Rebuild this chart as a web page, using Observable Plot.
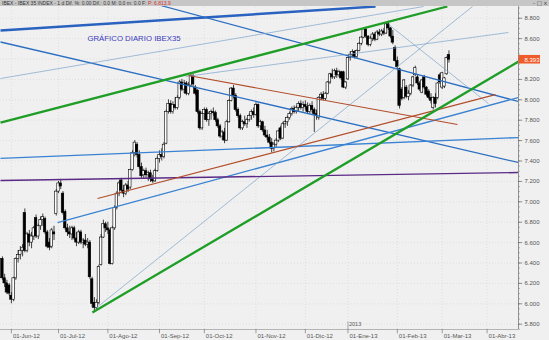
<!DOCTYPE html>
<html><head><meta charset="utf-8">
<script src="https://cdn.jsdelivr.net/npm/d3@7"></script>
<script src="https://cdn.jsdelivr.net/npm/@observablehq/plot@0.6"></script>
<style>
body{margin:0;background:#f0f0f0;}
#chart{position:relative;width:549px;height:340px;overflow:hidden;}
</style>
</head><body><div id="chart"></div>
<script>
// Daily candles, index 0 = 28-May-2012 ... 199 = 06-Mar-2013 (trading days)
const open = [6440,6250,6200,6180,6080,6040,6250,6440,6480,6520,6890,6520,6680,6600,6660,6840,6660,6760,6820,6830,
6700,6600,6560,6700,6880,7100,7180,7080,6900,6740,6700,6680,6740,6640,6600,6700,6600,6620,6580,6600,
6240,6010,5960,6010,6380,6650,6780,6740,6720,6390,6740,6940,7080,7210,7110,7080,7160,7140,7310,7480,
7560,7460,7340,7260,7300,7260,7280,7220,7200,7300,7420,7460,7440,7570,7880,7960,7880,7950,7920,8020,
8170,8100,8160,8060,8140,8230,8120,8090,7880,7720,7860,7900,7800,7860,7880,7870,7800,7740,7640,7680,
7600,7780,7990,8110,8040,7900,7840,7720,7780,7760,7800,7840,7880,7850,7950,7740,7780,7700,7650,7630,
7580,7520,7560,7600,7720,7620,7760,7780,7820,7860,7910,7880,7920,7960,7920,7950,7930,7880,7940,7900,
7860,7820,8020,8050,8010,8060,8170,8250,8220,8280,8240,8270,8270,8120,8200,8410,8440,8470,8420,8480,
8550,8610,8690,8620,8540,8600,8640,8590,8660,8640,8670,8650,8740,8700,8620,8510,8380,8300,8100,8020,
8120,8030,8060,8140,8240,8220,8160,8070,8220,8120,8080,8020,7920,8020,8020,8240,8120,8130,8250,8440];
const high = [6460,6290,6230,6200,6110,6260,6450,6520,6560,6580,6930,6700,6720,6700,6760,6870,6780,6850,6880,6850,
6720,6640,6740,6760,7120,7200,7220,7100,6920,6780,6760,6760,6760,6700,6720,6720,6640,6680,6640,6620,
6260,6060,6040,6380,6680,6820,6800,6800,6740,6760,6960,7100,7200,7230,7160,7180,7200,7320,7500,7600,
7580,7500,7380,7320,7330,7300,7310,7260,7320,7440,7500,7520,7580,7900,8000,7990,7980,8020,8040,8190,
8200,8190,8180,8170,8260,8250,8140,8100,7900,7880,7920,7920,7880,7900,7920,7890,7820,7760,7700,7720,
7800,8000,8120,8140,8060,7920,7860,7800,7840,7820,7860,7900,7920,7970,7960,7800,7790,7740,7700,7660,
7620,7580,7620,7700,7740,7780,7800,7840,7880,7930,7940,7940,7980,7990,7980,7990,7970,7960,7980,7920,
7900,8030,8070,8080,8070,8180,8260,8300,8300,8310,8290,8280,8280,8180,8420,8470,8490,8480,8490,8560,
8620,8700,8710,8630,8620,8660,8660,8680,8690,8690,8700,8760,8770,8710,8680,8530,8420,8310,8120,8200,
8140,8090,8150,8230,8330,8240,8180,8200,8240,8130,8100,8060,8030,8060,8170,8260,8270,8220,8420,8480];
const low = [6230,6160,6090,6080,6000,6020,6230,6400,6430,6460,6500,6500,6560,6540,6620,6640,6630,6720,6760,6680,
6540,6520,6540,6620,6860,7080,7120,6870,6720,6660,6640,6620,6620,6560,6580,6580,6540,6560,6540,6240,
5960,5915,5930,5990,6370,6640,6700,6680,6380,6380,6720,6920,7050,7100,7040,7060,7090,7120,7300,7440,
7430,7320,7230,7220,7230,7200,7190,7180,7190,7290,7380,7400,7420,7560,7860,7860,7860,7900,7900,8000,
8080,8060,8040,8040,8120,8130,8040,7860,7700,7700,7800,7780,7740,7800,7840,7780,7720,7620,7600,7570,
7590,7770,7980,8010,7880,7820,7700,7700,7740,7720,7780,7800,7820,7840,7720,7700,7680,7630,7600,7560,
7480,7490,7530,7580,7600,7610,7720,7740,7800,7840,7860,7860,7880,7900,7880,7900,7860,7860,7870,7680,
7800,7800,7990,7990,7990,8050,8150,8200,8200,8210,8220,8190,8110,8100,8190,8380,8410,8400,8400,8470,
8530,8600,8600,8520,8520,8570,8570,8580,8620,8620,8630,8640,8680,8600,8540,8370,8300,7910,7990,8000,
8010,7990,8040,8120,8230,8140,8080,8060,8100,8030,8000,7960,7900,7920,8000,8150,8100,8110,8240,8360];
const close = [6250,6200,6110,6100,6040,6250,6440,6480,6520,6550,6520,6680,6600,6660,6740,6660,6760,6820,6850,6700,
6560,6550,6720,6680,7100,7180,7150,6890,6740,6700,6680,6740,6640,6600,6700,6600,6620,6580,6600,6260,
6000,5960,6010,6360,6650,6780,6740,6720,6390,6740,6940,7080,7180,7110,7080,7160,7120,7310,7480,7580,
7460,7340,7250,7300,7260,7280,7220,7200,7300,7420,7460,7440,7560,7880,7960,7880,7950,7920,8020,8170,
8100,8160,8060,8140,8230,8150,8060,7880,7720,7860,7900,7800,7860,7880,7870,7800,7740,7640,7680,7600,
7780,7990,8110,8040,7900,7840,7720,7780,7760,7800,7840,7880,7850,7950,7740,7780,7700,7650,7630,7580,
7520,7560,7600,7690,7620,7760,7780,7820,7860,7910,7880,7920,7960,7920,7950,7930,7880,7940,7900,7860,
7840,8020,8050,8010,8060,8170,8250,8220,8280,8240,8270,8210,8120,8170,8410,8440,8470,8420,8480,8550,
8610,8690,8620,8540,8600,8640,8590,8660,8640,8670,8650,8740,8700,8620,8560,8380,8320,7940,8010,8190,
8030,8060,8140,8220,8310,8160,8100,8190,8120,8050,8020,7990,8020,7960,8160,8170,8260,8210,8410,8393];

const monthLabels = ["01-Jun-12","01-Jul-12","01-Ago-12","01-Sep-12","01-Oct-12","01-Nov-12","01-Dic-12","01-Ene-13","01-Feb-13","01-Mar-13","01-Abr-13"];
const monthStartIdx = [4,25,47,70,90,113,135,154,176,196,216];
const yTicks = [5800,6000,6200,6400,6600,6800,7000,7200,7400,7600,7800,8000,8200,8400,8600,8800];
const yearLabel = "2013";
const yearIdx = 154;

// trend lines: start/end (trading-day index, price)
const lineNames      = ["T","A","B","C","D","E","G","J","K","P","R1","R2","G1","G2"];
const lineStartIdx   = [-0.85,-0.85,70.5,-0.85,41.5,81.6,172.1,24.6,-0.85,-0.85,42.4,82.9,-0.85,40.1];
const lineStartPrice = [8679,8567,8925,8209,5954,8228,8738,6797,7425,7209,7032,8238,7777,5915];
const lineEndIdx     = [166.3,230,230,187.7,209.5,225.5,216.6,230,230,230,219.7,202.8,198.3,230];
const lineEndPrice   = [8915,7385,7983,8915,8915,8660,7964,8023,7630,7287,8051,7758,8915,8375];
const lineKind       = ["thickBlue","blue","blue","thin","thin","thin","thin","blue2","blue2","purple","brown","brown","green","green"];

const kindStyle = {
  thickBlue:{stroke:"#2a62c0",w:2.4},
  blue:{stroke:"#2c6fc2",w:1.3},
  blue2:{stroke:"#3a82d2",w:1.3},
  thin:{stroke:"#7ba3cb",w:0.7},
  purple:{stroke:"#5a2a86",w:1.4},
  brown:{stroke:"#b24d2a",w:1.1},
  green:{stroke:"#1f9e27",w:2.3}
};

const candles = open.map((o,i)=>({i,o,h:high[i],l:low[i],c:close[i]}));
const lines = lineNames.map((n,k)=>({n,x1:lineStartIdx[k],y1:lineStartPrice[k],x2:lineEndIdx[k],y2:lineEndPrice[k],kind:lineKind[k]}));
const months = monthLabels.map((t,k)=>({t,i:monthStartIdx[k]}));
const minor = d3.range(5750,8901,50);
const last = candles[candles.length-1];
const fmt = v => (v/1000).toFixed(3);

const X0=-0.85, X1=230, Y0=5748, Y1=8915;

const chart = Plot.plot({
  width:549, height:340,
  marginTop:6, marginBottom:11, marginLeft:0, marginRight:31,
  x:{type:"linear", domain:[X0,X1], axis:null},
  y:{domain:[Y0,Y1], axis:null},
  style:{background:"#f0f0f0", fontFamily:"Liberation Sans, Arial, sans-serif", overflow:"visible"},
  marks:[
    Plot.ruleY(yTicks,{x1:X0,x2:X1,stroke:"#d4d4d4",strokeWidth:0.6,strokeDasharray:"1,2"}),
    Plot.ruleX(months,{x:"i",y1:Y0,y2:Y1,stroke:"#d4d4d4",strokeWidth:0.6,strokeDasharray:"1,2"}),
    // candles
    Plot.ruleX(candles,{x:"i",y1:"l",y2:"h",stroke:"#111",strokeWidth:0.8}),
    Plot.rect(candles,{x1:d=>d.i-0.55,x2:d=>d.i+0.55,y1:"o",y2:d=>d.c===d.o?d.o+6:d.c,
      fill:d=>d.c>=d.o?"#ffffff":"#000000",stroke:"#000",strokeWidth:0.6}),
    // trend lines
    ...Object.keys(kindStyle).map(k=>Plot.link(lines.filter(l=>l.kind===k),{
      x1:"x1",y1:"y1",x2:"x2",y2:"y2",stroke:kindStyle[k].stroke,strokeWidth:kindStyle[k].w,clip:true})),
    // right axis
    Plot.ruleX([X1],{y1:Y0,y2:Y1,stroke:"#777",strokeWidth:0.8}),
    Plot.ruleY(minor,{x1:X1,x2:X1+0.9,stroke:"#888",strokeWidth:0.6}),
    Plot.ruleY(yTicks,{x1:X1,x2:X1+1.9,stroke:"#666",strokeWidth:0.7}),
    Plot.text(yTicks,{x:X1,y:d=>d,text:fmt,dx:6,textAnchor:"start",fontSize:6,fill:"#555"}),
    // bottom axis
    Plot.ruleY([Y0],{x1:X0,x2:X1,stroke:"#999",strokeWidth:0.7}),
    Plot.ruleX(months,{x:"i",y1:Y0,y2:Y0-42,stroke:"#777",strokeWidth:0.7}),
    Plot.text(months,{x:"i",y:Y0,text:"t",dx:1.5,dy:6.5,textAnchor:"start",fontSize:6,fill:"#555"}),
    Plot.ruleX([yearIdx],{y1:Y0,y2:Y0+75,stroke:"#777",strokeWidth:0.6}),
    Plot.text([yearLabel],{x:yearIdx,y:Y0,text:d=>d,dx:1,dy:-5,textAnchor:"start",fontSize:5.5,fill:"#555"}),
    // last price label
    Plot.rect([last],{x1:X1+0.3,x2:X1+9.8,y1:d=>d.c-42,y2:d=>d.c+42,fill:"#ef5b2b"}),
    Plot.text([last],{x:X1,y:"c",text:d=>fmt(d.c),dx:6,textAnchor:"start",fontSize:6,fill:"#fff"}),
    // title
    Plot.text(["GRÁFICO DIARIO IBEX35"],{frameAnchor:"top-left",dx:133.5,dy:28.5,text:d=>d,textAnchor:"middle",fontSize:7.8,fill:"#3a3abf"})
  ]
});
document.getElementById("chart").appendChild(chart);

// header bar
const svg = d3.select(chart);
const hdr = svg.append("g").attr("text-anchor","start");
hdr.append("rect").attr("x",0).attr("y",0).attr("width",549).attr("height",6).attr("fill","#c6c6c6");
const t = hdr.append("text").attr("x",2).attr("y",5).attr("text-anchor","start").attr("font-size",5)
  .attr("font-family","Liberation Sans, Arial, sans-serif");
t.append("tspan").attr("fill","#333").text("IBEX - IBEX 35 INDEX - 1 d Dif. %: 0.00 Dif.: 0.0 M: 0.0 m: 0.0 F: ");
t.append("tspan").attr("fill","#d83030").text("P: 6,813.9");
hdr.append("text").attr("x",547).attr("y",5).attr("text-anchor","end").attr("font-size",5.5).attr("fill","#444")
  .attr("font-family","DejaVu Sans, sans-serif").text("- □ x");
</script>
</body></html>
